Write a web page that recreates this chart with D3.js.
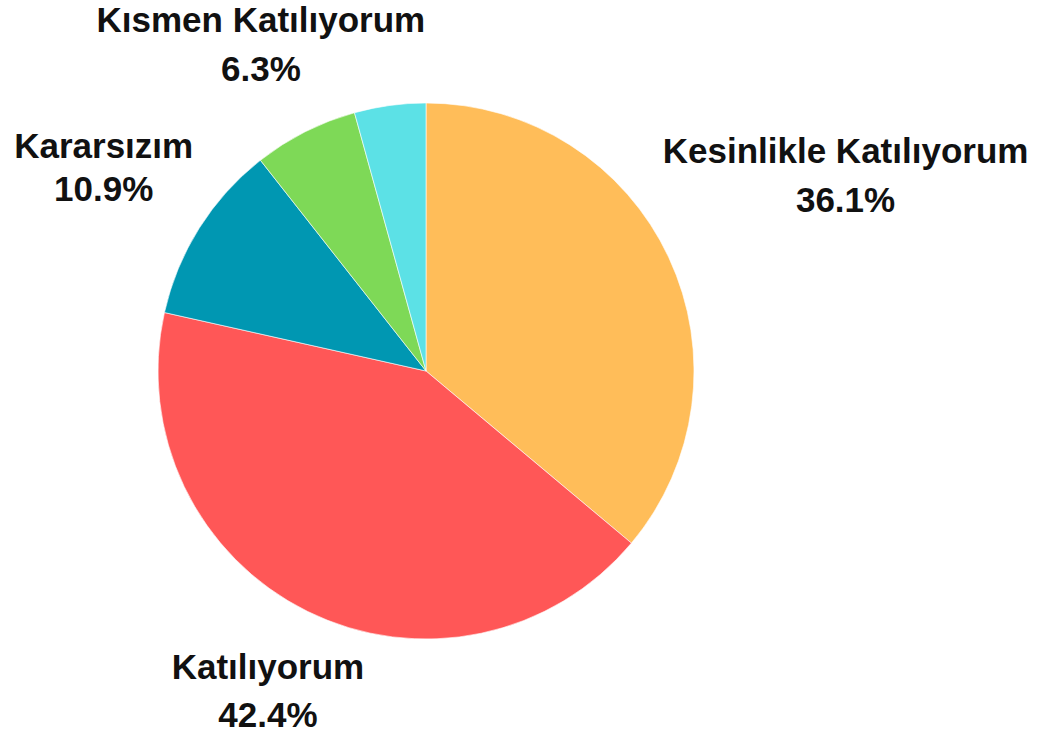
<!DOCTYPE html>
<html lang="en">
  <head>
    <meta charset="UTF-8" />
    <title>Pie</title>
    <style>
      body { margin: 0; background: #fff; }
      .label { font-family: "Liberation Sans", Arial, sans-serif; font-weight: bold; font-size: 35px; fill: #111; }
    </style>
  </head>
  <body>
    <svg id="container" width="1045" height="736">
      <g id="body"></g>
    </svg>
  </body>
  <script src="https://cdn.jsdelivr.net/npm/d3@7"></script>
  <script>
    // data, clockwise from 12 o'clock
    let categories = ["Kesinlikle Katılıyorum", "Katılıyorum", "Kararsızım", "Kısmen Katılıyorum", "Kesinlikle Katılmıyorum"];
    let values = [36.1, 42.4, 10.9, 6.3, 4.3];
    let colors = ["#FFBD59", "#FF5757", "#0097B2", "#7ED957", "#5CE1E6"];
    // the last slice has no visible label in the picture
    let showLabel = [true, true, true, true, false];

    let cx = 426, cy = 371, radius = 268;
    // how far out each label block sits from the centre
    let labelRadius = [463, 357, 381, 366, 400];
    // gap between name line and percentage line
    let lineGap = [49, 48, 43, 49, 48];

    let body = d3.select("#body").attr("transform", "translate(" + cx + "," + cy + ")");

    let slices = categories.map((c, i) => ({ name: c, value: values[i], i: i }));
    let pie = d3.pie().value(d => d.value).sort(null);
    let arcs = pie(slices);

    let arc = d3.arc().innerRadius(0).outerRadius(radius);

    body.selectAll("path").data(arcs).enter().append("path")
      .attr("d", arc)
      .attr("fill", d => colors[d.data.i])
      .attr("stroke", "#fff")
      .attr("stroke-width", 0.6);

    // labels: name on the first line, percentage under it
    let labels = body.selectAll("g.lab").data(arcs.filter(d => showLabel[d.data.i])).enter()
      .append("g").attr("class", "lab")
      .attr("transform", d => {
        let a = (d.startAngle + d.endAngle) / 2;
        let r = labelRadius[d.data.i];
        return "translate(" + (Math.sin(a) * r) + "," + (-Math.cos(a) * r) + ")";
      });

    labels.append("text").attr("class", "label")
      .attr("text-anchor", "middle")
      .attr("y", d => 12 - lineGap[d.data.i] / 2)
      .text(d => d.data.name);

    labels.append("text").attr("class", "label")
      .attr("text-anchor", "middle")
      .attr("y", d => 12 + lineGap[d.data.i] / 2)
      .text(d => d3.format(".1f")(d.data.value) + "%");
  </script>
</html>
